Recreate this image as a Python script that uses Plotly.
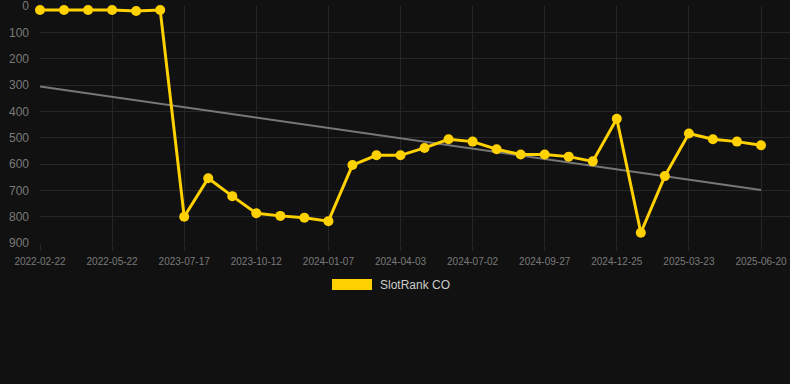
import numpy as np
import plotly.graph_objects as go

dates = [
    "2022-02-22", "2022-03-22", "2022-04-22", "2022-05-22", "2022-06-22", "2022-07-22",
    "2023-07-17", "2023-08-15", "2023-09-13", "2023-10-12", "2023-11-10", "2023-12-09",
    "2024-01-07", "2024-02-05", "2024-03-05", "2024-04-03", "2024-05-03", "2024-06-02",
    "2024-07-02", "2024-07-31", "2024-08-29", "2024-09-27", "2024-10-26", "2024-11-25",
    "2024-12-25", "2025-01-23", "2025-02-21", "2025-03-23", "2025-04-21", "2025-05-21",
    "2025-06-20",
]
ranks = [
    15, 15, 15, 15, 19, 15,
    800, 654, 722, 787, 797, 804,
    817, 604, 567, 567, 539, 506,
    515, 544, 564, 564, 572, 590,
    428, 861, 646, 484, 506, 515,
    529,
]
tick_labels = dates[::3]
y_ticks = [0, 100, 200, 300, 400, 500, 600, 700, 800, 900]
series_name = "SlotRank CO"

idx = np.arange(len(ranks))
slope, intercept = np.polyfit(idx, ranks, 1)
trend = [float(intercept + slope * i) for i in (0, len(ranks) - 1)]

LINE_COLOR = "#FFD100"
GRID = "#262626"
BG = "#111111"

fig = go.Figure()
fig.add_trace(go.Scatter(
    x=[dates[0], dates[-1]], y=trend, mode="lines",
    line=dict(color="#777777", width=2), showlegend=False, hoverinfo="skip",
))
fig.add_trace(go.Scatter(
    x=dates, y=ranks, mode="lines+markers", name=series_name,
    line=dict(color=LINE_COLOR, width=3),
    marker=dict(color=LINE_COLOR, size=10),
    cliponaxis=False, showlegend=False,
))

W, H = 790, 384
L, R, T, B = 40, 0, 6, 141
pw = W - L - R
ph = H - T - B

def px_x(p):
    return (p - L) / pw

def px_y(p):
    return (H - B - p) / ph

fig.add_shape(type="rect", xref="paper", yref="paper",
              x0=px_x(332), x1=px_x(372), y0=px_y(290), y1=px_y(279),
              fillcolor=LINE_COLOR, line=dict(width=0))
fig.add_annotation(xref="paper", yref="paper", x=px_x(378), y=px_y(285),
                   text=series_name, showarrow=False, xanchor="left", yanchor="middle",
                   font=dict(size=12, color="#cccccc"))

fig.update_layout(
    width=W, height=H,
    margin=dict(l=L, r=R, t=T, b=B, pad=0),
    paper_bgcolor=BG, plot_bgcolor=BG,
    font=dict(family="Liberation Sans, Arial, sans-serif", color="#777777"),
    showlegend=False,
    xaxis=dict(
        type="category", categoryorder="array", categoryarray=dates,
        range=[0, 30 + 29 / 24.03],
        tickmode="array", tickvals=tick_labels, ticktext=tick_labels,
        showgrid=True, gridcolor=GRID, gridwidth=1,
        ticks="outside", ticklen=7, tickcolor=GRID,
        tickfont=dict(size=10, color="#7a7a7a"),
        showline=False, zeroline=False, ticklabelstandoff=2,
    ),
    yaxis=dict(
        range=[900, -0.01],
        tickmode="array", tickvals=y_ticks,
        showgrid=True, gridcolor=GRID, gridwidth=1,
        ticks="", tickfont=dict(size=12, color="#7a7a7a"),
        showline=False, zeroline=False, ticklabelstandoff=10,
        ticklabeloverflow="allow",
    ),
)

fig.write_html(
    "out.html",
    config={"displayModeBar": False},
    post_script="document.body.style.margin='0';document.body.style.background='#111111';",
)
